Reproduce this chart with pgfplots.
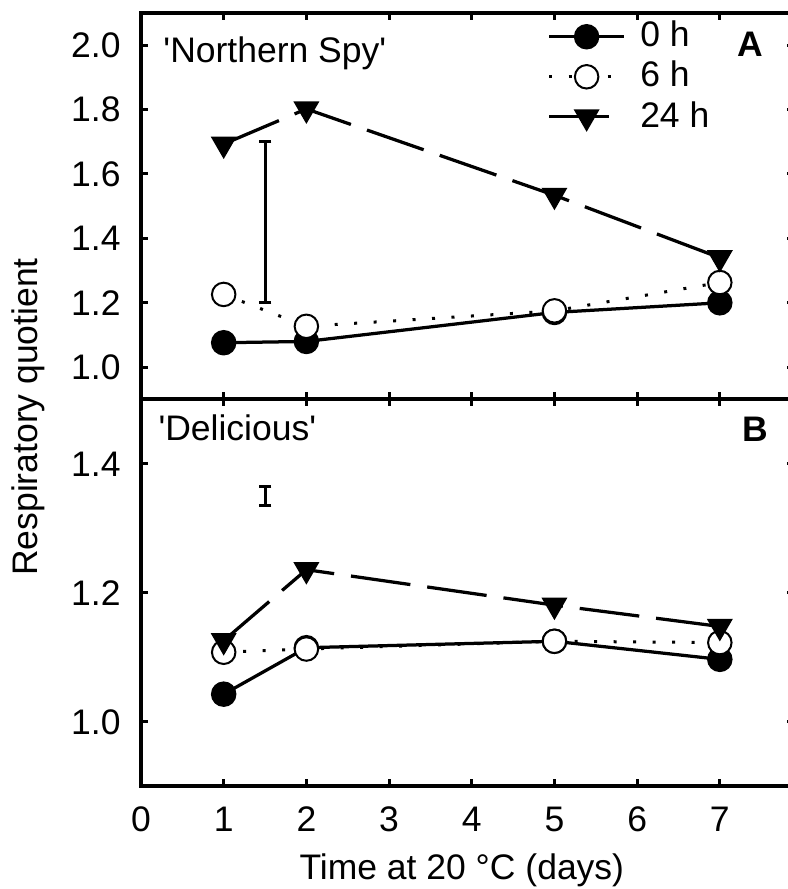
\documentclass[border=0pt]{standalone}
\usepackage{fontspec}
\setmainfont{Liberation Sans}
\usepackage{pgfplots}
\pgfplotsset{compat=1.18}

% 1 px of the reference = 0.4pt
\pgfplotsset{
  rq/.style={
    scale only axis,
    width=261.3pt,
    xmin=0, xmax=7.9,
    xtick={0,1,2,3,4,5,6,7},
    axis line style={line width=1.6pt},
    tick style={black, line width=1.2pt},
    major tick length=2.8pt,
    /pgf/number format/assume math mode=true,
    yticklabel style={anchor=east, inner sep=0pt, xshift=-8pt,
      /pgf/number format/.cd, fixed, fixed zerofill, precision=1},
    clip=false,
  },
  h0/.style={black, line width=1.3pt, mark=*, mark size=4.8pt,
    mark options={solid, line width=0.6pt}},
  h6/.style={black, line width=1.2pt, dash pattern=on 1.2pt off 6.6pt,
    mark=*, mark size=4.7pt, mark options={solid, fill=white, line width=0.8pt}},
  h24/.style={black, line width=1.3pt, dash pattern=on 24pt off 6.8pt,
    mark=triangle*, mark size=5.4pt, mark options={solid, rotate=180, line width=0.6pt}},
  % least significant difference bar: vertical line with horizontal caps
  sdbar/.style={forget plot, black, line width=1.2pt, mark=-, mark size=2.5pt,
    mark options={line width=1.2pt}},
}

\begin{document}
\fontsize{14.2}{17}\selectfont
\begin{tikzpicture}
\useasboundingbox (0,0) rectangle (315.2pt,-355.6pt);

% panel A
\begin{axis}[rq,
    at={(56.4pt,-5.2pt)}, anchor=north west,
    height=154.56pt,
    ymin=0.9, ymax=2.1,
    ytick={1,1.2,1.4,1.6,1.8,2},
    xticklabels={},
    legend style={draw=none, fill=none, at={(axis cs:4.91,2.09)},
      anchor=north west, inner sep=0pt, row sep=0pt,
      nodes={inner sep=1.8pt},
      /tikz/every odd column/.append style={column sep=4pt}},
    legend cell align=left,
    legend image code/.code={
      \draw[mark repeat=2, mark phase=2, #1]
        plot coordinates {(0pt,0pt) (15pt,0pt) (30pt,0pt)};},
]
\addplot[h0] coordinates {(1,1.076) (2,1.080) (5,1.170) (7,1.200)};
\addlegendentry{0 h}
\addplot[h6] coordinates {(1,1.226) (2,1.127) (5,1.175) (7,1.263)};
\addlegendentry{6 h}
\addplot[h24] coordinates {(1,1.693) (2,1.802) (5,1.534) (7,1.340)};
\addlegendentry{24 h}
\addplot[sdbar] coordinates {(1.5,1.2) (1.5,1.7)};
\node[anchor=base west, inner sep=0pt] at (axis cs:0.266,1.946)
  {\textquotesingle Northern Spy\textquotesingle};
\node[anchor=base west, inner sep=0pt, font=\bfseries] at (axis cs:7.207,1.965) {A};
\end{axis}

% panel B
\begin{axis}[rq,
    at={(56.4pt,-159.76pt)}, anchor=north west,
    height=154.8pt,
    ymin=0.9, ymax=1.5,
    ytick={1,1.2,1.4},
    xticklabel style={anchor=base, inner sep=0pt, yshift=-18pt},
    xlabel={Time at 20 °C (days)},
    xlabel style={at={(axis description cs:0.4911,0)}, anchor=base,
      inner sep=0pt, yshift=-37.4pt},
]
\addplot[h0] coordinates {(1,1.043) (2,1.115) (5,1.125) (7,1.097)};
\addplot[h6] coordinates {(1,1.108) (2,1.113) (5,1.125) (7,1.123)};
\addplot[h24] coordinates {(1,1.126) (2,1.236) (5,1.181) (7,1.148)};
\addplot[sdbar] coordinates {(1.5,1.335) (1.5,1.365)};
\node[anchor=base west, inner sep=0pt] at (axis cs:0.206,1.436)
  {\textquotesingle Delicious\textquotesingle};
\node[anchor=base west, inner sep=0pt, font=\bfseries] at (axis cs:7.267,1.435) {B};
\end{axis}

\node[rotate=90, anchor=base, inner sep=0pt] at (15pt,-166.8pt) {Respiratory quotient};
\end{tikzpicture}
\end{document}
